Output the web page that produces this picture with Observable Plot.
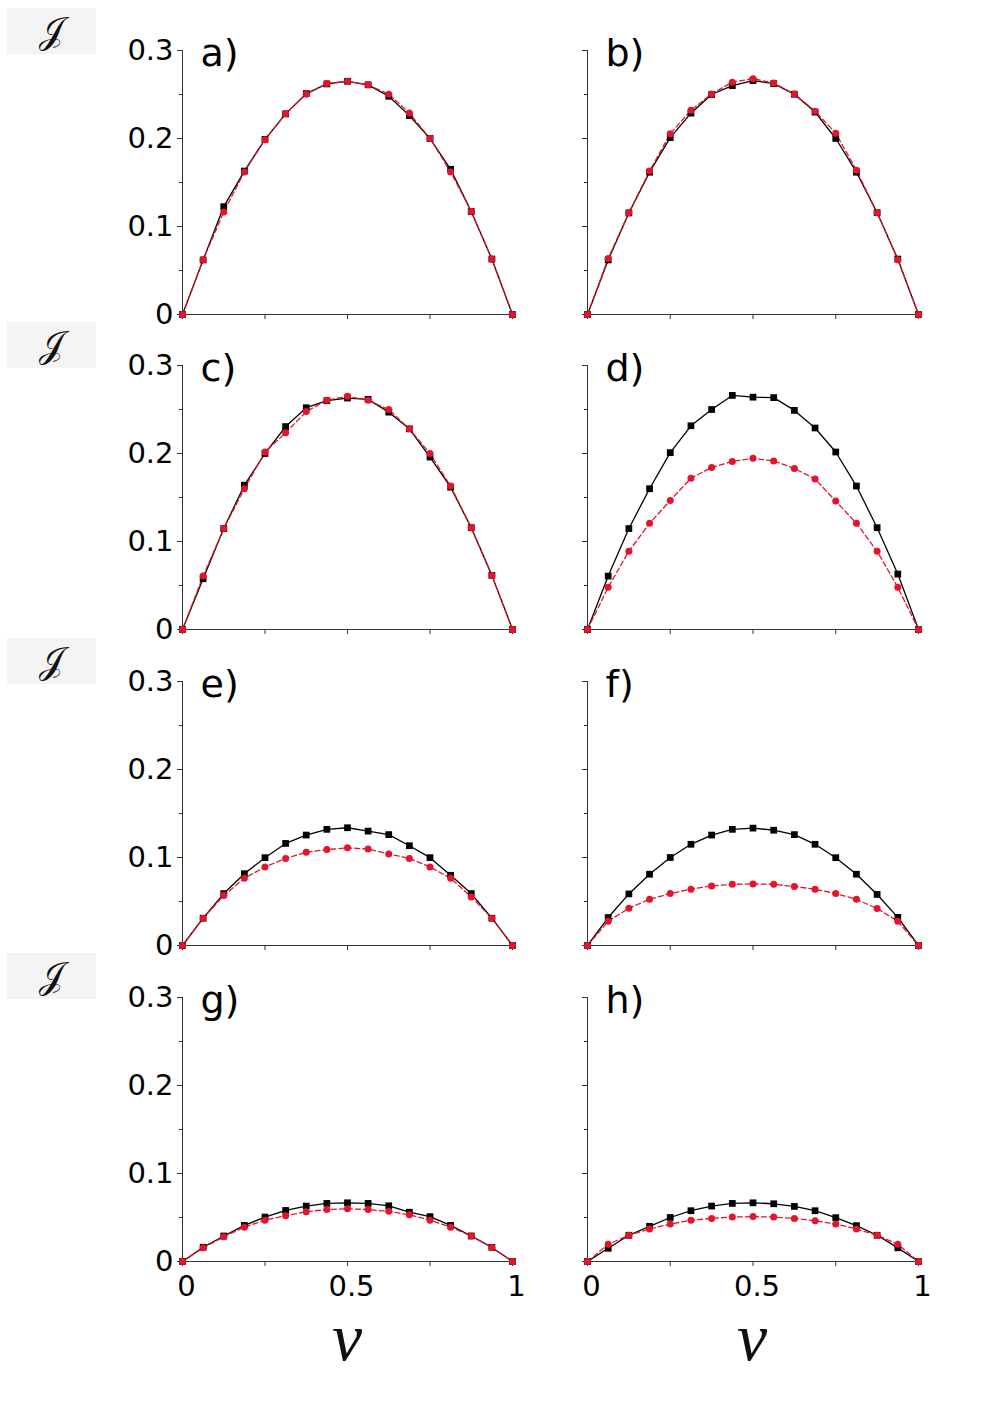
<!DOCTYPE html>
<html>
<head>
<meta charset="utf-8">
<script src="https://cdn.jsdelivr.net/npm/d3@7"></script>
<script src="https://cdn.jsdelivr.net/npm/@observablehq/plot@0.6"></script>
<style>
  html, body { margin: 0; padding: 0; background: #fff; }
  #root { position: relative; width: 992px; height: 1428px; overflow: hidden; background: #fff; }
  .pane { position: absolute; }
  .pane svg { max-width: none !important; display: block; }
  .jbox { position: absolute; left: 7px; width: 89px; height: 46px; background: #f4f4f4;
          font-family: "DejaVu Serif", "Liberation Serif", serif; font-size: 36px; line-height: 46px;
          text-align: center; color: #111; }
  .nu { position: absolute; width: 120px; text-align: center; font-family: "Liberation Serif", serif;
        font-style: italic; font-size: 68px; line-height: 68px; color: #111; }
</style>
</head>
<body>
<div id="root"></div>
<script>
// ---- data ----
const nu = [0, 0.0625, 0.125, 0.1875, 0.25, 0.3125, 0.375, 0.4375, 0.5, 0.5625, 0.625, 0.6875, 0.75, 0.8125, 0.875, 0.9375, 1];

const aBlack = [0, 0.062, 0.1225, 0.163, 0.199, 0.228, 0.251, 0.262, 0.265, 0.261, 0.248, 0.226, 0.200, 0.165, 0.117, 0.063, 0];
const aRed   = [0, 0.0622, 0.1165, 0.162, 0.1987, 0.228, 0.2504, 0.2625, 0.265, 0.261, 0.2504, 0.229, 0.200, 0.162, 0.117, 0.063, 0];

const bBlack = [0, 0.062, 0.1154, 0.1617, 0.201, 0.2288, 0.250, 0.260, 0.2658, 0.2624, 0.2503, 0.230, 0.200, 0.1617, 0.1157, 0.063, 0];
const bRed   = [0, 0.0637, 0.1157, 0.163, 0.2055, 0.232, 0.2507, 0.264, 0.268, 0.263, 0.2507, 0.231, 0.206, 0.164, 0.1157, 0.0622, 0];

const cBlack = [0, 0.0577, 0.1147, 0.164, 0.200, 0.2306, 0.252, 0.260, 0.263, 0.2615, 0.247, 0.228, 0.196, 0.1617, 0.1157, 0.0615, 0];
const cRed   = [0, 0.0607, 0.1147, 0.160, 0.2017, 0.2236, 0.2477, 0.2605, 0.265, 0.2605, 0.250, 0.228, 0.200, 0.163, 0.1157, 0.0615, 0];

const dBlack = [0, 0.0607, 0.1147, 0.160, 0.201, 0.2315, 0.250, 0.266, 0.264, 0.2635, 0.249, 0.229, 0.2017, 0.163, 0.1157, 0.063, 0];
const dRed   = [0, 0.048, 0.089, 0.1206, 0.1466, 0.172, 0.184, 0.191, 0.1945, 0.1915, 0.183, 0.171, 0.146, 0.1206, 0.089, 0.048, 0];

const eBlack = [0, 0.031, 0.059, 0.0816, 0.0998, 0.116, 0.1255, 0.132, 0.1338, 0.130, 0.126, 0.1134, 0.0998, 0.0798, 0.059, 0.031, 0];
const eRed   = [0, 0.031, 0.0567, 0.0764, 0.0892, 0.099, 0.106, 0.109, 0.111, 0.1096, 0.104, 0.099, 0.0892, 0.0764, 0.0552, 0.031, 0];

const fBlack = [0, 0.0318, 0.0586, 0.081, 0.100, 0.115, 0.1255, 0.132, 0.1334, 0.131, 0.126, 0.115, 0.0998, 0.081, 0.058, 0.032, 0];
const fRed   = [0, 0.0276, 0.0423, 0.0525, 0.059, 0.064, 0.0677, 0.0695, 0.070, 0.0695, 0.067, 0.064, 0.059, 0.0525, 0.042, 0.0276, 0];

const gBlack = [0, 0.0162, 0.029, 0.041, 0.0505, 0.058, 0.063, 0.066, 0.0667, 0.066, 0.0633, 0.056, 0.051, 0.041, 0.029, 0.016, 0];
const gRed   = [0, 0.0155, 0.028, 0.039, 0.047, 0.052, 0.0566, 0.059, 0.060, 0.059, 0.057, 0.053, 0.047, 0.039, 0.029, 0.016, 0];

const hBlack = [0, 0.015, 0.0298, 0.040, 0.050, 0.0577, 0.063, 0.066, 0.0667, 0.0656, 0.0626, 0.0577, 0.0498, 0.0407, 0.0298, 0.0155, 0];
const hRed   = [0, 0.0196, 0.0298, 0.037, 0.0426, 0.0468, 0.049, 0.0505, 0.051, 0.0505, 0.049, 0.0464, 0.0426, 0.037, 0.0298, 0.0196, 0];

const panelLabels = ["a)", "b)", "c)", "d)", "e)", "f)", "g)", "h)"];
const blackSeries = [aBlack, bBlack, cBlack, dBlack, eBlack, fBlack, gBlack, hBlack];
const redSeries   = [aRed, bRed, cRed, dRed, eRed, fRed, gRed, hRed];

const yTicks = [0, 0.1, 0.2, 0.3];
const yTickLabels = ["0", "0.1", "0.2", "0.3"];
const yMinorTicks = [0.05, 0.15, 0.25];
const xTicks = [0, 0.25, 0.5, 0.75, 1];
const xLabelTicks = [0, 0.5, 1];
const xTickLabels = ["0", "0.5", "1"];
const yLabel = "𝒥";
const xLabel = "ν";

// ---- layout ----
const root = document.getElementById("root");
const rowTops = [50, 365, 681, 997];
const plotH = 264;
const cols = [
  {left: 0,   width: 540, ml: 182, mr: 28},
  {left: 540, width: 452, ml: 47,  mr: 74}
];
const RED = "#e5142c";
const AX = "#333";

panelLabels.forEach((lab, i) => {
  const row = Math.floor(i / 2), col = i % 2;
  const c = cols[col];
  const bottomRow = row === 3;
  const mt = 40, mb = bottomRow ? 50 : 20;
  const data = nu.map((v, k) => ({nu: v, black: blackSeries[i][k], red: redSeries[i][k]}));

  const marks = [
    Plot.ruleX([0], {stroke: AX, strokeWidth: 1}),
    Plot.ruleY([0], {stroke: AX, strokeWidth: 1}),
    Plot.axisY({ticks: yTicks, tickSize: 5, tickPadding: 4, fontSize: 29, stroke: AX,
                text: col === 0 ? undefined : null,
                tickFormat: d => yTickLabels[yTicks.indexOf(d)], label: null}),
    Plot.axisY({ticks: yMinorTicks, tickSize: 3, text: null, stroke: AX, label: null}),
    Plot.axisX({ticks: xTicks, tickSize: 5, text: null, stroke: AX, label: null}),
  ];
  if (bottomRow) {
    marks.push(Plot.axisX({ticks: xLabelTicks, tickSize: 0, tickPadding: 14, fontSize: 29, dx: 4,
                           tickFormat: d => xTickLabels[xLabelTicks.indexOf(d)], label: null}));
  }
  marks.push(
    Plot.line(data, {x: "nu", y: "black", stroke: "#000", strokeWidth: 1.3}),
    Plot.line(data, {x: "nu", y: "red", stroke: RED, strokeWidth: 1.3, strokeDasharray: "5,3"}),
    Plot.dot(data, {x: "nu", y: "black", symbol: "square", r: 3.8, fill: "#000", stroke: "none"}),
    Plot.dot(data, {x: "nu", y: "red", symbol: "circle", r: 3.5, fill: RED, stroke: "none"}),
    Plot.text([lab], {frameAnchor: "top-left", text: d => d, dx: 18, dy: 3, lineAnchor: "middle",
                      textAnchor: "start", fontSize: 38, fill: "#000"})
  );

  const svg = Plot.plot({
    width: c.width,
    height: mt + plotH + mb,
    marginTop: mt, marginBottom: mb, marginLeft: c.ml, marginRight: c.mr,
    x: {domain: [0, 1]},
    y: {domain: [0, 0.3]},
    style: {background: "transparent", overflow: "visible", fontFamily: "DejaVu Sans", color: "#000"},
    marks
  });
  const div = document.createElement("div");
  div.className = "pane";
  div.style.left = c.left + "px";
  div.style.top = (rowTops[row] - mt) + "px";
  div.appendChild(svg);
  root.appendChild(div);
});

// y-axis symbol boxes
[8, 322, 638, 953].forEach(t => {
  const b = document.createElement("div");
  b.className = "jbox";
  b.style.top = t + "px";
  b.textContent = yLabel;
  root.appendChild(b);
});
// x-axis symbols
[347, 752].forEach(cx => {
  const n = document.createElement("div");
  n.className = "nu";
  n.style.left = (cx - 60) + "px";
  n.style.top = "1303px";
  n.textContent = xLabel;
  root.appendChild(n);
});
</script>
</body>
</html>
